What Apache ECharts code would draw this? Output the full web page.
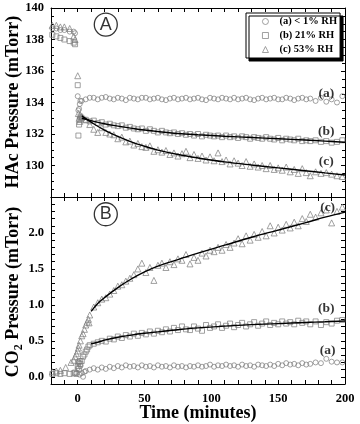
<!DOCTYPE html>
<html>
<head>
<meta charset="utf-8">
<script src="https://cdn.jsdelivr.net/npm/echarts@6/dist/echarts.min.js"></script>
<style>
  html, body { margin: 0; padding: 0; background: #fff; }
  #chart { width: 360px; height: 424px; }
</style>
</head>
<body>
<div id="chart"></div>
<script>
// sampling times (minutes) shared by the steady part of every series
var mainTime = [3, 6, 9, 12, 15, 18, 21, 24, 27, 30,
  33, 36, 39, 42, 45, 48, 51, 54, 57, 60,
  63, 66, 69, 72, 75, 78, 81, 84, 87, 90,
  93, 96, 99, 102, 105, 108, 111, 114, 117, 120,
  123, 126, 129, 132, 135, 138, 141, 144, 147, 150,
  153, 156, 159, 162, 165, 168, 171, 174,
  178, 182, 186, 190, 194, 198]

var names = ['(a) < 1% RH', '(b) 21% RH', '(c) 53% RH']

// --- panel A : HAc pressure (mTorr) ---
var hacAEarly = [[-19, 138.7], [-16, 138.7], [-13, 138.6], [-10, 138.6], [-6, 138.5], [-3, 138.5], [-2, 138.4],
  [0, 134.4], [0.5, 133.5], [1, 133.6], [1.5, 133.9], [2, 134.1]]
var hacBEarly = [[-19, 138.3], [-16, 138.2], [-13, 138.1], [-10, 138.0], [-6, 137.9], [-3, 137.8], [-2, 137.7],
  [0, 135.1], [0.5, 131.9], [1, 132.6], [1.5, 132.9], [2, 133.1]]
var hacCEarly = [[-19, 138.9], [-16, 138.9], [-13, 138.8], [-10, 138.8], [-6, 138.7], [-3, 138.2], [-2, 138.0],
  [0, 135.7], [0.5, 133.3], [1, 133.0], [1.5, 132.8], [2, 133.2]]

var hacA = [134.1, 134.2, 134.3, 134.3, 134.2, 134.3, 134.35, 134.25, 134.2, 134.3,
  134.25, 134.15, 134.3, 134.25, 134.2, 134.3, 134.3, 134.2, 134.25, 134.3,
  134.2, 134.15, 134.25, 134.3, 134.2, 134.25, 134.3, 134.2, 134.25, 134.3,
  134.2, 134.15, 134.3, 134.25, 134.2, 134.3, 134.25, 134.2, 134.3, 134.2,
  134.25, 134.3, 134.2, 134.15, 134.25, 134.3, 134.2, 134.25, 134.3, 134.2,
  134.2, 134.3, 134.25, 134.15, 134.25, 134.3, 134.2, 134.25,
  134.1, 134.3, 134.05, 134.2, 134.0, 134.4]
var hacB = [133.0, 132.9, 132.8, 132.85, 132.7, 132.75, 132.6, 132.65, 132.55, 132.5,
  132.55, 132.4, 132.45, 132.35, 132.3, 132.35, 132.2, 132.3, 132.2, 132.1,
  132.2, 132.1, 132.05, 132.1, 132.0, 132.05, 131.95, 132.0, 131.9, 132.0,
  131.85, 131.95, 131.9, 131.85, 131.9, 131.8, 131.9, 131.8, 131.85, 131.75,
  131.85, 131.8, 131.7, 131.8, 131.75, 131.7, 131.8, 131.7, 131.65, 131.75,
  131.6, 131.7, 131.65, 131.6, 131.7, 131.55, 131.6, 131.55,
  131.6, 131.5, 131.55, 131.45, 131.5, 131.6]
var hacC = [133.1, 132.9, 132.6, 132.3, 132.1, 132.4, 132.1, 132.0, 131.95, 131.7,
  131.8, 131.5, 131.55, 131.3, 131.4, 131.2, 131.15, 131.25, 130.9, 131.0,
  130.85, 130.95, 130.7, 130.8, 130.6, 130.75, 130.9, 130.5, 130.7, 130.45,
  130.6, 130.35, 130.55, 130.3, 130.8, 130.25, 130.35, 130.1, 130.3, 130.15,
  130.0, 130.25, 129.95, 130.1, 129.9, 130.0, 129.8, 130.0, 129.75, 129.85,
  129.7, 129.9, 129.6, 129.75, 129.5, 129.8, 129.55, 129.35,
  129.6, 129.5, 129.55, 129.45, 129.35, 129.3]

var fitTopTime = [3, 10, 20, 30, 40, 50, 60, 75, 90, 110, 130, 150, 170, 185, 200]
var fitTopB = [133.0, 132.85, 132.65, 132.5, 132.37, 132.25, 132.15, 132.03, 131.95, 131.86, 131.78, 131.7, 131.62, 131.55, 131.48]
var fitTopC = [133.15, 132.75, 132.25, 131.85, 131.5, 131.22, 130.98, 130.7, 130.48, 130.23, 130.03, 129.85, 129.67, 129.53, 129.4]

// --- panel B : CO2 pressure (mTorr) ---
var co2AEarly = [[-1, 0.05], [0, 0.12], [0.7, 0.2], [1.3, 0.03], [2, 0.15], [4, 0.0], [5, 0.07]]
var co2BEarly = [[-19, 0.04], [-16, 0.05], [-13, 0.04], [-10, 0.05], [-6, 0.04], [-3, 0.05], [-2, 0.06], [-1, 0.04],
  [0, 0.15], [0.5, 0.2], [1, 0.11], [1.5, 0.22], [2, 0.18], [4, 0.28], [5, 0.31], [7, 0.38], [8, 0.42]]
var co2CEarly = [[-19, 0.07], [-16, 0.08], [-13, 0.09], [-9, 0.13], [-5, 0.2], [-3, 0.23], [-2, 0.28], [-1, 0.32],
  [0, 0.36], [0.5, 0.4], [1, 0.44], [2, 0.5], [4, 0.6], [5, 0.66], [7, 0.76], [8, 0.8], [8.5, 0.75]]

var co2A = [0.05, 0.08, 0.1, 0.12, 0.1, 0.13, 0.11, 0.14, 0.12, 0.15,
  0.13, 0.16, 0.14, 0.15, 0.13, 0.16, 0.14, 0.15, 0.13, 0.16,
  0.14, 0.15, 0.13, 0.16, 0.14, 0.15, 0.13, 0.15, 0.14, 0.16,
  0.14, 0.15, 0.17, 0.14, 0.16, 0.15, 0.17, 0.15, 0.16, 0.14,
  0.17, 0.15, 0.16, 0.14, 0.17, 0.16, 0.15, 0.17, 0.15, 0.18,
  0.16, 0.19, 0.17, 0.18, 0.16, 0.19, 0.17, 0.18,
  0.2, 0.19, 0.25, 0.21, 0.2, 0.2]
var co2B = [0.22, 0.35, 0.44, 0.46, 0.48, 0.5, 0.49, 0.53, 0.52, 0.56,
  0.54, 0.58, 0.56, 0.6, 0.57, 0.61, 0.59, 0.63, 0.6, 0.64,
  0.62, 0.66, 0.63, 0.68, 0.65, 0.7, 0.66, 0.65, 0.7, 0.67,
  0.64, 0.72, 0.68, 0.7, 0.73, 0.68, 0.71, 0.74, 0.69, 0.72,
  0.75, 0.7, 0.73, 0.76, 0.71, 0.74, 0.77, 0.72, 0.75, 0.73,
  0.77, 0.74, 0.76, 0.73, 0.78, 0.75, 0.77, 0.73,
  0.77, 0.72, 0.76, 0.74, 0.78, 0.79]
var co2C = [0.57, 0.72, 0.86, 0.97, 1.03, 1.08, 1.1, 1.15, 1.2, 1.26,
  1.28, 1.33, 1.37, 1.42, 1.5, 1.58, 1.45, 1.52, 1.34, 1.55,
  1.58, 1.52, 1.6, 1.56, 1.64, 1.62, 1.7, 1.57, 1.66, 1.62,
  1.72, 1.68, 1.76, 1.74, 1.8, 1.76, 1.84, 1.8, 1.86, 1.92,
  1.85, 1.96, 1.9, 1.98, 1.94, 2.02, 1.96, 2.1, 2.0, 2.08,
  2.04, 2.12, 2.07, 2.15, 2.1, 2.2, 2.16, 2.26,
  2.22, 2.28, 2.32, 2.14, 2.3, 2.36]

var fitBotTime = [10, 15, 20, 30, 40, 50, 60, 75, 90, 110, 130, 150, 170, 185, 200]
var fitBotC = [0.91, 1.02, 1.1, 1.24, 1.36, 1.46, 1.54, 1.63, 1.72, 1.83, 1.94, 2.04, 2.14, 2.22, 2.29]
var fitBotB = [0.46, 0.48, 0.51, 0.55, 0.58, 0.605, 0.625, 0.655, 0.68, 0.705, 0.725, 0.74, 0.755, 0.765, 0.775]

// text tags placed in data coordinates [label, t, value]
var topTags = [['(a)', 186, 134.6], ['(b)', 186, 132.15], ['(c)', 186, 130.25]]
var botTags = [['(c)', 187, 2.35], ['(b)', 186, 0.95], ['(a)', 187, 0.37]]
var panelLetters = [['A', 21, 138.95, 0], ['B', 21, 2.26, 1]]

var SERIF = '"Liberation Serif", "Times New Roman", serif'
var grey = '#7c7c7c'

function pts(early, vals) {
  return early.concat(mainTime.map(function (t, i) { return [t, vals[i]] }))
}
function pairs(times, vals) {
  return times.map(function (t, i) { return [t, vals[i]] })
}

function axis(grid, pos, extra) {
  var a = {
    gridIndex: grid, type: 'value', position: pos,
    axisLine: { show: true, onZero: false, lineStyle: { color: '#000', width: 1 } },
    axisTick: { show: true, inside: true, length: 4, lineStyle: { color: '#000', width: 1 } },
    axisLabel: { show: false },
    splitLine: { show: false }
  }
  return Object.assign(a, extra || {})
}
var xRange = { min: -20, max: 200, interval: 10 }
var hacRange = {
  min: 128, max: 140, interval: 2,
  minorTick: { show: true, splitNumber: 4, length: 3, lineStyle: { color: '#000', width: 1 } }
}
var co2Range = { min: -0.1, max: 2.5, interval: 0.1 }

var labelFont = { fontFamily: SERIF, fontWeight: 'bold', fontSize: 12.5, color: '#000' }

function scatter(name, p, data, symbol) {
  return {
    name: name, type: 'scatter', xAxisIndex: p * 2, yAxisIndex: p * 2,
    data: data, symbol: symbol, symbolSize: symbol === 'triangle' ? 6 : 5,
    itemStyle: { color: 'rgba(255,255,255,0)', borderColor: grey, borderWidth: 0.9 },
    silent: true, z: 2
  }
}
function fitLine(p, data) {
  return {
    type: 'line', xAxisIndex: p * 2, yAxisIndex: p * 2, data: data,
    smooth: 0.4, symbol: 'none', silent: true, z: 3,
    lineStyle: { color: '#000', width: 1.4 }
  }
}
function tags(p, list) {
  return {
    type: 'scatter', xAxisIndex: p * 2, yAxisIndex: p * 2, silent: true, z: 4,
    symbolSize: 1, itemStyle: { color: 'rgba(0,0,0,0)' },
    label: { show: true, position: 'inside', formatter: '{b}', fontFamily: SERIF, fontWeight: 'bold', fontSize: 13.5, color: '#000' },
    data: list.map(function (d) { return { name: d[0], value: [d[1], d[2]] } })
  }
}
function letter(d) {
  return {
    type: 'scatter', xAxisIndex: d[3] * 2, yAxisIndex: d[3] * 2, silent: true, z: 4,
    symbol: 'circle', symbolSize: 23,
    itemStyle: { color: 'rgba(0,0,0,0)', borderColor: '#000', borderWidth: 1.3 },
    label: { show: true, position: 'inside', formatter: '{b}', fontFamily: '"Liberation Sans", Arial, sans-serif', fontSize: 18, color: '#000' },
    data: [{ name: d[0], value: [d[1], d[2]] }]
  }
}

var titleStyle = { fill: '#000', font: 'bold 18px ' + SERIF, align: 'center', verticalAlign: 'middle', textAlign: 'center', textVerticalAlign: 'middle' }

var chart = echarts.init(document.getElementById('chart'), null, { renderer: 'canvas' })
chart.setOption({
  animation: false,
  backgroundColor: '#fff',
  grid: [
    { left: 51, right: 15, top: 8, height: 189, outerBoundsMode: 'none' },
    { left: 51, right: 15, top: 197, height: 187, outerBoundsMode: 'none' }
  ],
  legend: {
    data: names, orient: 'vertical', left: 246, top: 13,
    itemWidth: 6, itemHeight: 6, itemGap: 3, padding: [3, 3, 3, 16],
    backgroundColor: '#fff', borderColor: '#000', borderWidth: 1,
    shadowColor: '#000', shadowOffsetX: 3, shadowOffsetY: 3, shadowBlur: 0,
    itemStyle: { borderWidth: 0.9 },
    selectedMode: false,
    textStyle: { fontFamily: SERIF, fontWeight: 'bold', fontSize: 10.5, color: '#000', padding: [0, 0, 0, 6] }
  },
  xAxis: [
    axis(0, 'bottom', xRange),
    axis(0, 'top', xRange),
    axis(1, 'bottom', Object.assign({
      axisLabel: Object.assign({
        show: true, margin: 8,
        formatter: function (v) { var k = Math.round(v); return (k >= 0 && k % 50 === 0) ? String(k) : '' }
      }, labelFont)
    }, xRange)),
    axis(1, 'top', xRange)
  ],
  yAxis: [
    axis(0, 'left', Object.assign({
      axisLabel: Object.assign({ show: true, margin: 7, formatter: function (v) { return v < 129 ? '' : String(v) } }, labelFont)
    }, hacRange)),
    axis(0, 'right', hacRange),
    axis(1, 'left', Object.assign({
      axisLabel: Object.assign({
        show: true, margin: 7,
        formatter: function (v) { var k = Math.round(v * 10); return (k >= 0 && k <= 20 && k % 5 === 0) ? (k / 10).toFixed(1) : '' }
      }, labelFont)
    }, co2Range)),
    axis(1, 'right', co2Range)
  ],
  graphic: [
    { type: 'text', x: 13, y: 102, rotation: Math.PI / 2, silent: true,
      style: Object.assign({ text: 'HAc Pressure (mTorr)' }, titleStyle) },
    { type: 'text', x: 13, y: 292, rotation: Math.PI / 2, silent: true,
      style: Object.assign({
        text: '{n|CO}{s|2}{n| Pressure (mTorr)}',
        rich: {
          n: { fontFamily: SERIF, fontWeight: 'bold', fontSize: 18, fill: '#000', color: '#000', lineHeight: 24 },
          s: { fontFamily: SERIF, fontWeight: 'bold', fontSize: 12, fill: '#000', color: '#000', verticalAlign: 'bottom', lineHeight: 12 }
        }
      }, titleStyle) },
    { type: 'text', x: 198, y: 413, silent: true,
      style: Object.assign({ text: 'Time (minutes)' }, titleStyle) }
  ],
  series: [
    scatter(names[0], 0, pts(hacAEarly, hacA), 'circle'),
    scatter(names[1], 0, pts(hacBEarly, hacB), 'rect'),
    scatter(names[2], 0, pts(hacCEarly, hacC), 'triangle'),
    fitLine(0, pairs(fitTopTime, fitTopB)),
    fitLine(0, pairs(fitTopTime, fitTopC)),
    scatter(names[0], 1, pts(co2AEarly, co2A), 'circle'),
    scatter(names[1], 1, pts(co2BEarly, co2B), 'rect'),
    scatter(names[2], 1, pts(co2CEarly, co2C), 'triangle'),
    fitLine(1, pairs(fitBotTime, fitBotB)),
    fitLine(1, pairs(fitBotTime, fitBotC)),
    tags(0, topTags),
    tags(1, botTags),
    letter(panelLetters[0]),
    letter(panelLetters[1])
  ]
})
</script>
</body>
</html>
